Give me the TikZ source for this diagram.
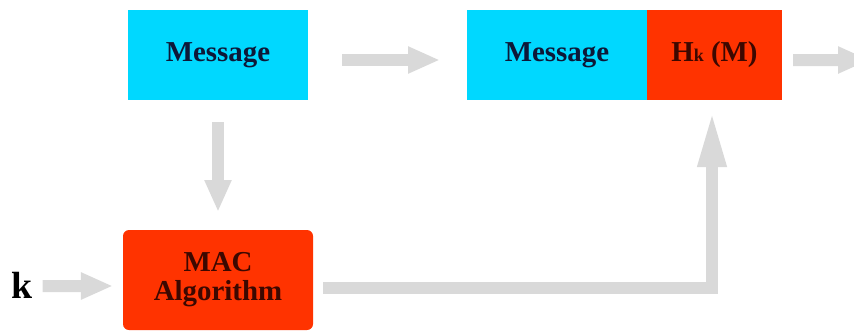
\documentclass[tikz,border=0pt]{standalone}
\usepackage{fontspec}
\setmainfont{Liberation Serif}
\usetikzlibrary{arrows.meta}
\definecolor{boxcyan}{HTML}{00D8FF}
\definecolor{boxred}{HTML}{FF3300}
\definecolor{arrowgray}{HTML}{D9D9D9}
\definecolor{navytext}{HTML}{0D1838}
\definecolor{maroontext}{HTML}{3C0800}
\tikzset{
  block/.style={inner sep=0pt, outer sep=0pt, font=\bfseries\fontsize{29}{29}\selectfont},
  msgbox/.style={block, fill=boxcyan, text=navytext, minimum width=180bp, minimum height=90bp},
  tagbox/.style={block, fill=boxred, text=maroontext, minimum width=135bp, minimum height=90bp},
  algbox/.style={block, fill=boxred, text=maroontext, rounded corners=6bp, minimum width=190bp, minimum height=100bp, align=center},
  flow/.style={draw=arrowgray, line width=12bp, line join=miter, -{Triangle[length=32bp,width=25bp]}},
  longflow/.style={draw=arrowgray, line width=12bp, line join=miter, -{Triangle[length=57bp,width=26bp]}}
}
\begin{document}
\begin{tikzpicture}[x=1bp,y=-1bp]
  \useasboundingbox (0,0) rectangle (854,332);
  \clip (0,0) rectangle (854,332);

  % blocks
  \node[msgbox] (msg) at (218,55) {Message};
  \node[msgbox] (msg2) at (557,55) {Message};
  \node[tagbox] (hk) at (714.5,55) {H{\fontsize{18}{18}\selectfont k} (M)};
  \node[algbox] (mac) at (218,280) {MAC\\Algorithm};
  \node[font=\bfseries\fontsize{38}{38}\selectfont, inner sep=0pt] (k) at (22,285) {k};
  \coordinate (out) at (870,60);

  % connectors
  \draw[flow, shorten <=34bp, shorten >=27bp] ([yshift=-5bp]msg.east) -- ([yshift=-5bp]msg2.west);
  \draw[flow, shorten <=11bp] ([yshift=-5bp]hk.east) -- (out);
  \draw[flow, shorten <=22bp, shorten >=18bp] (msg.south) -- (mac.north);
  \draw[flow, shorten <=10bp, shorten >=10bp] ([yshift=-1bp]k.east) -- ([yshift=-6bp]mac.west);
  \draw[longflow, shorten >=10bp] ([xshift=10bp,yshift=-8bp]mac.east) -| ([xshift=-2.5bp]hk.south);
\end{tikzpicture}
\end{document}
